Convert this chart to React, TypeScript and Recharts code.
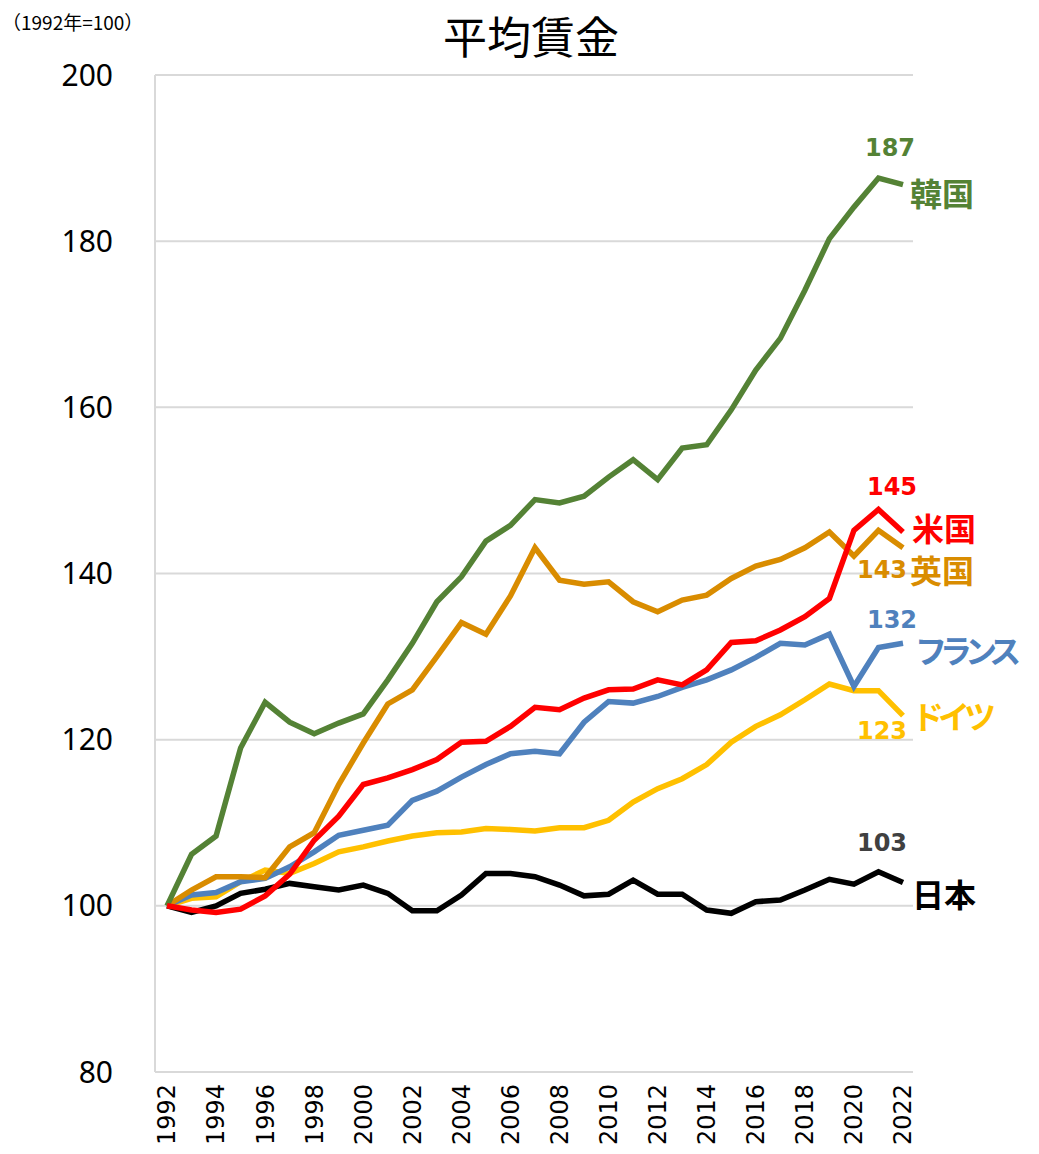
import { LineChart, Line, XAxis, YAxis, CartesianGrid, LabelList } from "recharts";

const years = [
  "1992", "1993", "1994", "1995", "1996", "1997", "1998", "1999", "2000", "2001", "2002",
  "2003", "2004", "2005", "2006", "2007", "2008", "2009", "2010", "2011", "2012",
  "2013", "2014", "2015", "2016", "2017", "2018", "2019", "2020", "2021", "2022",
];

const japan = [100, 99.2, 100.0, 101.5, 102.0, 102.7, 102.3, 101.9, 102.5, 101.5, 99.4, 99.4, 101.3, 103.9, 103.9, 103.5, 102.5, 101.2, 101.4, 103.1, 101.4, 101.4, 99.5, 99.1, 100.5, 100.7, 101.9, 103.2, 102.6, 104.1, 102.8];
const korea = [100, 106.2, 108.4, 119.0, 124.5, 122.1, 120.7, 122.0, 123.1, 127.2, 131.6, 136.6, 139.6, 143.9, 145.8, 148.9, 148.5, 149.3, 151.6, 153.7, 151.3, 155.1, 155.5, 159.7, 164.5, 168.3, 174.1, 180.3, 184.1, 187.6, 186.8];
const us = [100, 99.5, 99.2, 99.6, 101.2, 103.8, 107.9, 110.8, 114.6, 115.4, 116.4, 117.6, 119.7, 119.8, 121.6, 123.9, 123.6, 125.0, 126.0, 126.1, 127.2, 126.6, 128.4, 131.7, 131.9, 133.2, 134.8, 137.0, 145.2, 147.7, 145.0];
const uk = [100, 101.9, 103.5, 103.5, 103.4, 107.1, 108.8, 114.6, 119.6, 124.3, 126.0, 130.0, 134.1, 132.7, 137.3, 143.1, 139.2, 138.7, 139.0, 136.6, 135.4, 136.8, 137.4, 139.4, 140.9, 141.7, 143.1, 145.0, 142.1, 145.2, 143.1];
const france = [100, 101.3, 101.6, 102.9, 103.3, 104.7, 106.5, 108.5, 109.1, 109.7, 112.7, 113.8, 115.5, 117.0, 118.3, 118.6, 118.3, 122.1, 124.6, 124.4, 125.2, 126.3, 127.2, 128.4, 129.9, 131.6, 131.4, 132.7, 126.4, 131.1, 131.6];
const germany = [100, 100.9, 101.1, 102.9, 104.3, 103.9, 105.1, 106.5, 107.1, 107.8, 108.4, 108.8, 108.9, 109.3, 109.2, 109.0, 109.4, 109.4, 110.3, 112.5, 114.1, 115.3, 117.0, 119.7, 121.6, 123.0, 124.8, 126.7, 125.9, 125.9, 122.9];

const yTicks = [80, 100, 120, 140, 160, 180, 200];

const data = years.map((year, i) => ({
  year,
  japan: japan[i],
  korea: korea[i],
  us: us[i],
  uk: uk[i],
  france: france[i],
  germany: germany[i],
}));

// drawing order: first is at the bottom
const SERIES = [
  { key: "japan", name: "日本", color: "#000000", numColor: "#404040", num: [-21, -40], label: [9, 10], ls: 0 },
  { key: "germany", name: "ドイツ", color: "#FFC000", numColor: "#FFC000", num: [-21, 15], label: [9, -1], ls: -6 },
  { key: "france", name: "フランス", color: "#4F81BD", numColor: "#4F81BD", num: [-11, -23], label: [12, 6], ls: -7 },
  { key: "uk", name: "英国", color: "#D98C00", numColor: "#D98C00", num: [-21, 22], label: [7, 21], ls: 0 },
  { key: "korea", name: "韓国", color: "#548235", numColor: "#548235", num: [-13, -37], label: [7, 7], ls: 0 },
  { key: "us", name: "米国", color: "#FF0000", numColor: "#FF0000", num: [-11, -45], label: [9, -5], ls: 0 },
];

const last = years.length - 1;

const EndLabel = (s: (typeof SERIES)[number]) => (props: any) => {
  const { x, y, index, value } = props;
  if (index !== last) return null;
  return (
    <g>
      <text
        x={x + s.num[0]}
        y={y + s.num[1]}
        textAnchor="middle"
        dominantBaseline="central"
        fill={s.numColor}
        fontFamily="'DejaVu Sans', Verdana, sans-serif"
        fontWeight="bold"
        fontSize={24}
      >
        {Math.round(value)}
      </text>
      <text
        x={x + s.label[0]}
        y={y + s.label[1]}
        textAnchor="start"
        dominantBaseline="central"
        fill={s.color}
        fontFamily="'Noto Sans CJK JP', sans-serif"
        fontWeight="bold"
        fontSize={32}
        letterSpacing={s.ls}
      >
        {s.name}
      </text>
    </g>
  );
};

const YearTick = ({ x, y, payload }: any) => (
  <g transform={`translate(${x},${y})`}>
    <text
      x={-4}
      y={0}
      dy="0.35em"
      transform="rotate(-90)"
      textAnchor="end"
      fill="#000"
      fontFamily="'DejaVu Sans', Verdana, sans-serif"
      fontSize={24}
    >
      {payload.value}
    </text>
  </g>
);

export default function App() {
  return (
    <div style={{ position: "relative", width: 1031, height: 1146, background: "#fff" }}>
      <div
        style={{
          position: "absolute",
          left: -6,
          top: 0,
          fontFamily: "'Noto Sans CJK JP', sans-serif",
          fontSize: 19,
          color: "#000",
        }}
      >
        （1992年=100）
      </div>
      <div
        style={{
          position: "absolute",
          left: 0,
          width: 1046,
          top: -5,
          textAlign: "center",
          fontFamily: "'Noto Sans CJK JP', sans-serif",
          fontSize: 44,
          color: "#000",
        }}
      >
        平均賃金
      </div>
      <LineChart
        width={1031}
        height={1146}
        data={data}
        margin={{ top: 67, right: 126, left: 0, bottom: 0 }}
      >
        <CartesianGrid vertical={false} stroke="#D9D9D9" strokeWidth={2} />
        <XAxis
          dataKey="year"
          interval={1}
          height={82}
          padding={{ left: 12, right: 10 }}
          tick={<YearTick />}
          tickLine={false}
          axisLine={{ stroke: "#D9D9D9", strokeWidth: 2 }}
        />
        <YAxis
          domain={[80, 200]}
          ticks={yTicks}
          width={147}
          tickLine={false}
          tickMargin={36}
          axisLine={{ stroke: "#D9D9D9", strokeWidth: 2 }}
          tick={{
            fill: "#000",
            fontSize: 30,
            fontFamily: "'Liberation Sans Narrow', 'Noto Sans', sans-serif",
          }}
        />
        <YAxis
          yAxisId="r"
          orientation="right"
          domain={[80, 200]}
          width={0}
          tick={false}
          tickLine={false}
          axisLine={{ stroke: "#D9D9D9", strokeWidth: 2 }}
        />
        {SERIES.map((s) => (
          <Line
            key={s.key}
            type="linear"
            dataKey={s.key}
            stroke={s.color}
            strokeWidth={5.5}
            dot={false}
            isAnimationActive={false}
          >
            <LabelList dataKey={s.key} content={EndLabel(s)} />
          </Line>
        ))}
      </LineChart>
    </div>
  );
}
